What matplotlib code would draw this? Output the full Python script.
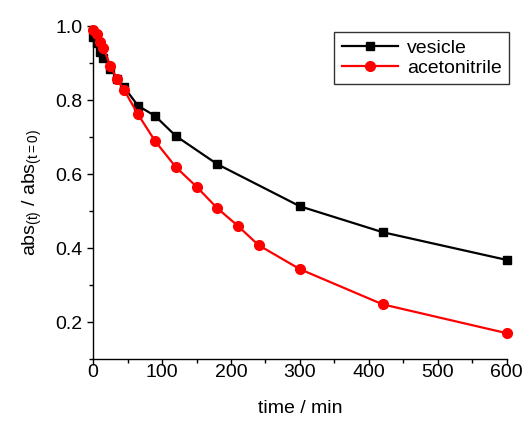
import matplotlib
matplotlib.use("Agg")
import matplotlib.pyplot as plt
from matplotlib.ticker import MultipleLocator

plt.rcParams['font.family'] = ['Liberation Sans', 'DejaVu Sans']
plt.rcParams['mathtext.fontset'] = 'custom'
plt.rcParams['mathtext.rm'] = 'Liberation Sans'
plt.rcParams['mathtext.it'] = 'Liberation Sans'

t_vesicle = [0, 5, 10, 15, 25, 35, 45, 65, 90, 120, 180, 300, 420, 600]
vesicle = [0.97, 0.955, 0.93, 0.915, 0.885, 0.858, 0.835, 0.785, 0.757, 0.703, 0.627, 0.513, 0.443, 0.368]

t_acn = [0, 5, 10, 15, 25, 35, 45, 65, 90, 120, 150, 180, 210, 240, 300, 420, 600]
acetonitrile = [0.99, 0.98, 0.957, 0.94, 0.893, 0.856, 0.827, 0.762, 0.689, 0.619, 0.566, 0.508, 0.46, 0.408, 0.343, 0.248, 0.17]

fig = plt.figure(figsize=(5.23, 4.21), dpi=100)
ax = fig.add_axes([0.178, 0.147, 0.791, 0.791])

ax.plot(t_vesicle, vesicle, color='black', marker='s', markersize=6, lw=1.6, label='vesicle', clip_on=False, zorder=3)
ax.plot(t_acn, acetonitrile, color='red', marker='o', markersize=7, lw=1.6, label='acetonitrile', clip_on=False, zorder=4)

ax.set_xlim(0, 600)
ax.set_ylim(0.1, 1.0)
ax.xaxis.set_major_locator(MultipleLocator(100))
ax.xaxis.set_minor_locator(MultipleLocator(50))
ax.yaxis.set_minor_locator(MultipleLocator(0.1))
ax.set_yticks([0.2, 0.4, 0.6, 0.8, 1.0])
ax.set_yticklabels(['0.2', '0.4', '0.6', '0.8', '1.0'])

ax.spines['top'].set_visible(False)
ax.spines['right'].set_visible(False)
for s in ['left', 'bottom']:
    ax.spines[s].set_linewidth(1.0)
ax.tick_params(which='major', direction='out', length=4.5, width=1, labelsize=14)
ax.tick_params(which='minor', direction='out', length=3, width=1)
ax.tick_params(axis='x', which='major', pad=-1)
ax.tick_params(axis='y', which='major', pad=3)

ax.set_xlabel('time / min', fontsize=14, labelpad=14)
ax.set_ylabel(r'abs$_{\mathregular{(t)}}$ / abs$_{\mathregular{(t=0)}}$', fontsize=14, labelpad=8)

leg = ax.legend(loc='upper right', bbox_to_anchor=(1.005, 0.982), fontsize=14, frameon=True,
                fancybox=False, edgecolor='black', handlelength=2.9, borderpad=0.38,
                labelspacing=0.12, handletextpad=0.45, borderaxespad=0)
leg.get_frame().set_linewidth(1.0)

fig.savefig('out.png', dpi=100)
